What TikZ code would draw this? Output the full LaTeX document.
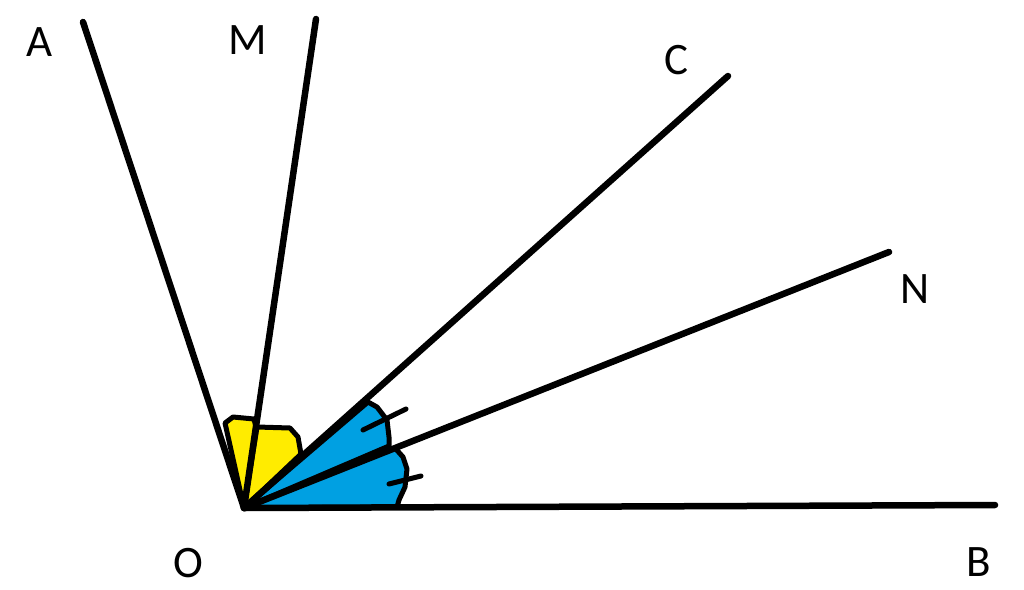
\documentclass[tikz,border=0pt]{standalone}
\usepackage{fontspec}
\setmainfont{Carlito}
\usetikzlibrary{positioning}
\definecolor{myyellow}{RGB}{255,236,0}
\definecolor{myblue}{RGB}{0,160,226}

\begin{document}
\begin{tikzpicture}[x=1pt,y=-1pt,line join=round,line cap=round]
    \useasboundingbox (0,0) rectangle (1024,589);
    \tikzset{ray/.style={line width=6.5pt,black},
             tick/.style={line width=5pt,black},
             lbl/.style={inner sep=0pt,font=\fontsize{45}{50}\selectfont}}

    % Points
    \coordinate (O) at (244,508);
    \coordinate (A) at (83,22);
    \coordinate (M) at (316,19);
    \coordinate (C) at (728,76);
    \coordinate (N) at (889,252);
    \coordinate (B) at (995,505);

    % Angles AOM and MOC
    \filldraw[myyellow,draw=black,line width=5pt] (O) -- (225,423) -- (233,417) -- (254,419) -- (256,427) -- cycle;
    \filldraw[myyellow,draw=black,line width=5pt] (O) -- (257,427) -- (290,428) -- (298,437) -- (301,454) -- cycle;

    % Angles CON and NOB
    \filldraw[myblue,draw=black,line width=5pt] (O) -- (368,402) -- (377,407) -- (387,420) -- (389,437) -- (389,446) -- cycle;
    \filldraw[myblue,draw=black,line width=5pt] (O) -- (395,448) -- (403,457) -- (407,469) -- (405,487) -- (399,500) -- (397,507) -- cycle;
    \draw[tick] (363,430) -- (406,409);
    \draw[tick] (389,484) -- (421,476);

    % Rays
    \foreach \p in {A,M,C,N,B}
        \draw[ray] (O) -- (\p);

    % Labels
    \node[lbl] (lA) at (40,42) {A};
    \node[lbl] (lM) at (248,40) {M};
    \node[lbl] (lC) at (676,60) {C};
    \node[lbl] (lN) at (915,289) {N};
    \node[lbl] (lO) at (188,563) {O};
    \node[lbl] (lB) at (979,562) {B};
\end{tikzpicture}
\end{document}
